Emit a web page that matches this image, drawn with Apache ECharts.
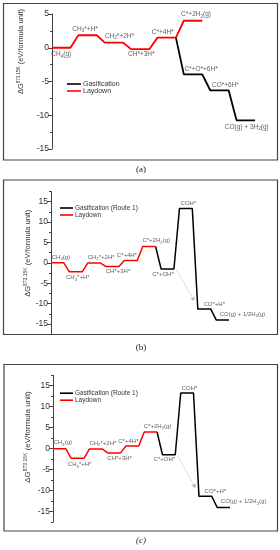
<!DOCTYPE html>
<html><head><meta charset="utf-8">
<script src="https://cdn.jsdelivr.net/npm/echarts@6/dist/echarts.min.js"></script>
<style>html,body{margin:0;padding:0;background:#fff}#c{width:280px;height:550px}</style>
</head><body><div id="c"></div>
<script>
// ---------- data ----------
// Panel (a)
const statesA_lay = ['CH{s|4}(g)', 'CH{s|3}*+H*', 'CH{s|2}*+2H*', 'CH*+3H*', 'C*+4H*', 'C*+2H{s|2}(g)'];
const levelsA_lay = [0, 1.85, 0.75, -0.2, 1.5, 4.0];
const statesA_gas = ['C*+O*+6H*', 'CO*+6H*', 'CO(g) + 3H{s|2}(g)'];
const levelsA_gas = [-3.95, -6.3, -10.75];
const branchA = 4;   // gasification leaves from C*+4H*
const yTicksA = [-15, -10, -5, 0, 5];
// Panel (b)
const statesB_lay = ['CH{s|4}(g)', 'CH{s|3}*+H*', 'CH{s|2}*+2H*', 'CH*+3H*', 'C*+4H*', 'C*+2H{s|2}(g)'];
const levelsB_lay = [0, -2.2, -0.05, -0.9, 0.6, 4.0];
const statesB_gas = ['C*+OH*', 'COH*', 'CO*+H*', 'CO(g) + 1/2H{s|2}(g)'];
const levelsB_gas = [-1.5, 13.3, -11.3, -14.0];
const branchB = 5;   // gasification leaves from C*+2H2(g)
const arrowB = [[68.5, -1.8], [78, -9.3]];
// Panel (c)
const statesC_lay = ['CH{s|4}(g)', 'CH{s|3}*+H*', 'CH{s|2}*+2H*', 'CH*+3H*', 'C*+4H*', 'C*+2H{s|2}(g)'];
const levelsC_lay = [0, -2.3, -0.05, -1.0, 0.65, 4.0];
const statesC_gas = ['C*+OH*', 'COH*', 'CO*+H*', 'CO(g) + 1/2H{s|2}(g)'];
const levelsC_gas = [-1.45, 13.25, -11.35, -14.0];
const branchC = 5;
const arrowC = [[68.5, -1.8], [78, -9.3]];
const yTicksBC = [-15, -10, -5, 0, 5, 10, 15];
const yTitle = 'ΔG{sup|873.15K} (eV/formula unit)';

// ---------- layout / style ----------
const FONT = '"Liberation Sans", Arial, sans-serif';
const STEP = 10, PLAT = 7;
function ladder(levels, firstIdx) {
  const pts = [];
  levels.forEach((v, i) => { const k = firstIdx + i; pts.push([k * STEP, v], [k * STEP + PLAT, v]); });
  return pts;
}
function branch(fromIdx, fromLevel, levels) {
  return [[fromIdx * STEP + PLAT, fromLevel]].concat(ladder(levels, fromIdx + 1));
}

const panels = [
  { grid: {left: 52, right: 25, top: 14, bottom: 401}, xMax: 77, yMin: -15, yMax: 5, ticks: yTicksA,
    layNames: statesA_lay, lay: levelsA_lay, gasNames: statesA_gas, gas: levelsA_gas, branchFrom: branchA, gasName: 'Gasification',
    arrow: null, lw: 1.8, labelFont: 6.5, tickFont: 8.5, titleFont: 7.5, titleSup: 4.5, titleShift: 30, nameGap: 26,
    labelLayout: [['bottom',0],['top',-2.5],['top',5.5],['bottom',1],['top',-4],['top',3],['top',8],['top',6],['bottom',1]],
    legend: {left: 67, top: 80.5, font: 7, w: 14},
    frame: [3.5, 3.5, 274, 156.5], caption: ['(a)', 141, 170, 'normal'] },
  { grid: {left: 51, right: 51, top: 191.5, bottom: 215.8}, xMax: 97, yMin: -17.5, yMax: 17.5, ticks: yTicksBC,
    layNames: statesB_lay, lay: levelsB_lay, gasNames: statesB_gas, gas: levelsB_gas, branchFrom: branchB, gasName: 'Gasification (Route 1)',
    arrow: arrowB, lw: 1.5, labelFont: 6, tickFont: 8.5, titleFont: 7.5, titleSup: 5, titleShift: 9.5, nameGap: 18,
    labelLayout: [['top',3.5],['bottom',2],['top',7],['bottom',5.5],['top',-4],['top',7],['bottom',-4.5],['top',2.5],['top',10],['top',20]],
    legend: {left: 60, top: 204.5, font: 6.5, w: 13},
    frame: [3.5, 180, 274, 154.5], caption: ['(b)', 141, 348, 'normal'] },
  { grid: {left: 53, right: 50, top: 375.2, bottom: 27.8}, xMax: 97, yMin: -17.5, yMax: 17.5, ticks: yTicksBC,
    layNames: statesC_lay, lay: levelsC_lay, gasNames: statesC_gas, gas: levelsC_gas, branchFrom: branchC, gasName: 'Gasification (Route 1)',
    arrow: arrowC, lw: 1.5, labelFont: 6, tickFont: 8.5, titleFont: 8, titleSup: 5, titleShift: 11.7, nameGap: 20,
    labelLayout: [['top',3.5],['bottom',2],['top',7],['bottom',5.5],['top',-4],['top',7],['bottom',-4.5],['top',2.5],['top',10],['top',20]],
    legend: {left: 60, top: 389.7, font: 6.5, w: 13},
    frame: [4, 364.5, 273.5, 166.5], caption: ['(c)', 141, 541, 'italic'] }
];

const grids = [], xAxes = [], yAxes = [], legends = [], series = [], graphics = [];
panels.forEach((p, i) => {
  grids.push(Object.assign({}, p.grid, {containLabel: false, outerBoundsMode: 'none'}));
  xAxes.push({type: 'value', gridIndex: i, min: 0, max: p.xMax, show: false});
  yAxes.push({
    type: 'value', gridIndex: i, position: 'left', min: p.yMin, max: p.yMax,
    splitLine: {show: false},
    axisLine: {show: true, onZero: false, lineStyle: {color: '#444', width: 1}},
    axisTick: {show: true, length: 4, customValues: p.ticks, lineStyle: {color: '#444', width: 1}},
    axisLabel: {show: true, customValues: p.ticks, fontSize: p.tickFont, color: '#333', margin: 3, fontFamily: FONT},
    name: yTitle, nameLocation: 'middle', nameRotate: 90, nameGap: p.nameGap, nameMoveOverlap: false,
    nameTextStyle: {fontSize: p.titleFont, color: '#333', fontFamily: FONT, padding: [0, 0, 0, p.titleShift * 2],
      rich: {sup: {fontSize: p.titleSup, fontFamily: FONT, color: '#333', padding: [0, 0, 5, 0]}}}
  });
  yAxes.push({
    type: 'value', gridIndex: i, position: 'left', min: p.yMin, max: p.yMax, interval: 2.5,
    splitLine: {show: false}, axisLine: {show: false}, axisLabel: {show: false},
    axisTick: {show: true, length: 2, lineStyle: {color: '#444', width: 1}}
  });
  const yi = 2 * i;
  const gasSeries = {
    type: 'line', name: p.gasName, xAxisIndex: i, yAxisIndex: yi, symbol: 'none', z: 3,
    data: branch(p.branchFrom, p.lay[p.branchFrom], p.gas),
    lineStyle: {color: '#000', width: p.lw}, itemStyle: {color: '#000'}
  };
  if (p.arrow) {
    gasSeries.markLine = {
      silent: true, symbol: ['none', 'arrow'], symbolSize: 4,
      label: {show: false}, lineStyle: {color: '#aaa', width: 0.8, type: 'dotted'},
      data: [[{coord: p.arrow[0]}, {coord: p.arrow[1]}]]
    };
  }
  series.push(gasSeries);
  series.push({
    type: 'line', name: 'Laydown', xAxisIndex: i, yAxisIndex: yi, symbol: 'none', z: 4,
    data: ladder(p.lay, 0),
    lineStyle: {color: '#ff0000', width: p.lw}, itemStyle: {color: '#ff0000'}
  });
  const labelPts = [];
  p.layNames.forEach((s, j) => labelPts.push([j, p.lay[j], s]));
  p.gasNames.forEach((s, j) => labelPts.push([p.branchFrom + 1 + j, p.gas[j], s]));
  series.push({
    type: 'scatter', xAxisIndex: i, yAxisIndex: yi, symbolSize: 1, silent: true, z: 5,
    itemStyle: {color: 'rgba(0,0,0,0)'},
    label: {show: true, formatter: (q) => q.name, fontSize: p.labelFont, color: '#333', fontFamily: FONT, distance: 1.5,
      rich: {s: {fontSize: p.labelFont * 0.72, fontFamily: FONT, color: '#333', padding: [4, 0, 0, 0]}}},
    data: labelPts.map((lp, j) => ({
      value: [lp[0] * STEP + PLAT / 2, lp[1]], name: lp[2],
      label: {position: p.labelLayout[j][0], offset: [p.labelLayout[j][1], 0]}
    }))
  });
  legends.push({
    orient: 'vertical', left: p.legend.left, top: p.legend.top, padding: 0, itemGap: 0,
    icon: 'rect', itemWidth: p.legend.w, itemHeight: 1.6, selectedMode: false,
    textStyle: {fontSize: p.legend.font, color: '#333', fontFamily: FONT, lineHeight: 6.5, padding: [0, 0, 0, -3]},
    data: [{name: p.gasName, itemStyle: {color: '#000'}}, {name: 'Laydown', itemStyle: {color: '#ff0000'}}]
  });
  graphics.push({type: 'rect', shape: {x: p.frame[0], y: p.frame[1], width: p.frame[2], height: p.frame[3]},
    style: {fill: 'none', stroke: '#444', lineWidth: 1.2}, silent: true});
  graphics.push({type: 'text', x: p.caption[1], y: p.caption[2], silent: true,
    style: {text: p.caption[0], fill: '#222', font: p.caption[3] + ' 9px "Liberation Serif", serif', textAlign: 'center', textVerticalAlign: 'middle'}});
});

const chart = echarts.init(document.getElementById('c'), null, {renderer: 'canvas'});
chart.setOption({
  animation: false, backgroundColor: '#fff',
  textStyle: {fontFamily: FONT},
  grid: grids, xAxis: xAxes, yAxis: yAxes, legend: legends, series: series, graphic: graphics
});
</script></body></html>
